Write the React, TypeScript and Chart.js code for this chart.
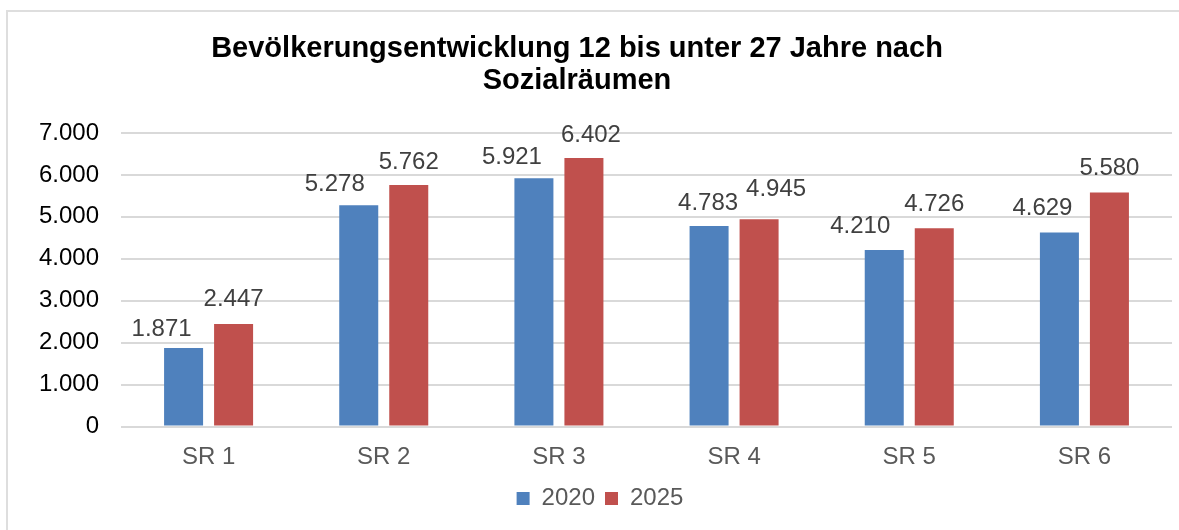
import React, { useEffect, useRef } from 'react';
import { Chart, registerables } from 'chart.js';

Chart.register(...registerables);

const titleLines = ['Bevölkerungsentwicklung 12 bis unter 27 Jahre nach', 'Sozialräumen'];
const categories = ['SR 1', 'SR 2', 'SR 3', 'SR 4', 'SR 5', 'SR 6'];
const seriesLabels = ['2020', '2025'];
const values2020 = [1871, 5278, 5921, 4783, 4210, 4629];
const values2025 = [2447, 5762, 6402, 4945, 4726, 5580];
const yMin = 0;
const yMax = 7000;
const yStep = 1000;

// manual label placement (horizontal shift, gap above bar top) as in the original
const labelShiftX2020 = [-22, -24, -22, -1, -24, -17];
const labelGap2020 = [12, 14, 14, 16, 17, 17];
const labelShiftX2025 = [0, 0, 7, 17, 0, 0];
const labelGap2025 = [18, 16, 16, 23, 17, 18];

const FONT = "'Liberation Sans', Arial, Helvetica, sans-serif";
const BLUE = '#4F81BD';
const RED = '#C0504D';

const fmt = (v: number | string) => String(v).replace(/\B(?=(\d{3})+(?!\d))/g, '.');

const titlePlugin = {
  id: 'customTitle',
  afterDraw(chart: any) {
    const ctx = chart.ctx;
    ctx.save();
    ctx.font = `bold 29px ${FONT}`;
    ctx.fillStyle = '#000000';
    ctx.textAlign = 'center';
    ctx.textBaseline = 'alphabetic';
    ctx.fillText(titleLines[0], 569, 45.7);
    ctx.fillText(titleLines[1], 569, 78.3);
    ctx.restore();
  },
};

const dataLabelPlugin = {
  id: 'barValueLabels',
  afterDatasetsDraw(chart: any) {
    const ctx = chart.ctx;
    const shifts = [labelShiftX2020, labelShiftX2025];
    const gaps = [labelGap2020, labelGap2025];
    ctx.save();
    ctx.font = `24px ${FONT}`;
    ctx.fillStyle = '#404040';
    ctx.textAlign = 'center';
    ctx.textBaseline = 'alphabetic';
    chart.data.datasets.forEach((ds: any, i: number) => {
      const meta = chart.getDatasetMeta(i);
      meta.data.forEach((bar: any, j: number) => {
        ctx.fillText(fmt(ds.data[j]), bar.x + shifts[i][j], bar.y - gaps[i][j]);
      });
    });
    ctx.restore();
  },
};

export default function App() {
  const canvasRef = useRef<HTMLCanvasElement | null>(null);

  useEffect(() => {
    const canvas = canvasRef.current;
    if (!canvas) return;
    const chart = new Chart(canvas, {
      type: 'bar',
      data: {
        labels: categories,
        datasets: [
          { label: seriesLabels[0], data: values2020, backgroundColor: BLUE, borderWidth: 0 },
          { label: seriesLabels[1], data: values2025, backgroundColor: RED, borderWidth: 0 },
        ],
      },
      options: {
        responsive: false,
        animation: false,
        devicePixelRatio: 1,
        datasets: {
          bar: { categoryPercentage: 0.571, barPercentage: 0.78 },
        },
        layout: { padding: { top: 122, left: 20, right: 7, bottom: 9.5 } },
        plugins: {
          title: { display: false },
          tooltip: { enabled: false },
          legend: {
            position: 'bottom',
            labels: {
              font: { size: 24, family: FONT },
              color: '#595959',
              boxWidth: 13,
              boxHeight: 13,
              padding: 10,
            },
          },
        },
        scales: {
          x: {
            grid: { display: false, drawTicks: false },
            border: { display: false },
            ticks: { font: { size: 24, family: FONT }, color: '#595959', padding: 16 },
            afterFit: (s: any) => {
              s.height = 50;
            },
          },
          y: {
            min: yMin,
            max: yMax,
            ticks: {
              stepSize: yStep,
              font: { size: 24, family: FONT },
              color: '#000000',
              padding: 22,
              callback: (v: any) => fmt(v),
            },
            grid: { color: '#d9d9d9', lineWidth: 2, drawTicks: false },
            border: { display: false },
            afterFit: (s: any) => {
              s.width = 93;
            },
          },
        },
      },
      plugins: [titlePlugin, dataLabelPlugin],
    } as any);
    return () => chart.destroy();
  }, []);

  return (
    <div style={{ position: 'fixed', left: 0, top: 0, width: '100vw', height: '100vh', overflow: 'hidden', background: '#ffffff' }}>
      <div
        style={{
          position: 'absolute',
          left: 6,
          top: 10,
          width: 1300,
          height: 700,
          border: '2px solid #dedede',
          boxSizing: 'border-box',
        }}
      />
      <canvas
        ref={canvasRef}
        width={1171}
        height={519}
        style={{ position: 'absolute', left: 8, top: 11, width: 1171, height: 519 }}
      />
    </div>
  );
}
